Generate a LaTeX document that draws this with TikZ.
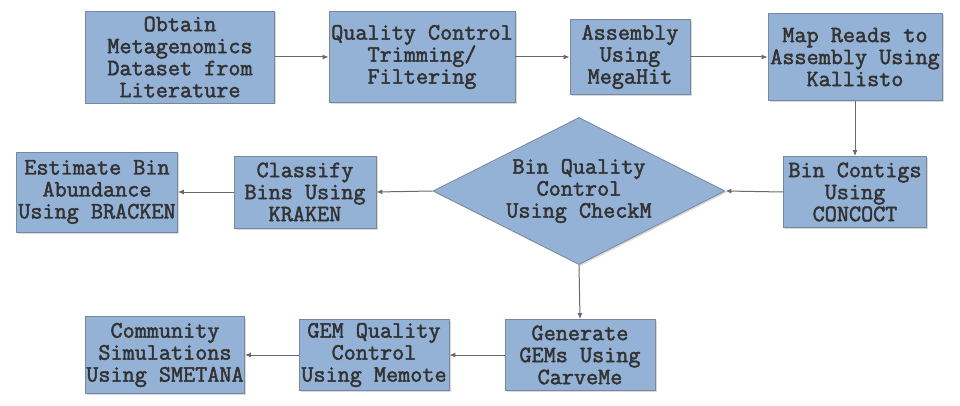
\documentclass[tikz,border=0pt]{standalone}
\usepackage{fontspec}
\setmonofont{Latin Modern Mono}[BoldFont={Latin Modern Mono}, BoldFeatures={FakeBold=2}]
\usetikzlibrary{shapes.geometric,arrows.meta,shadows}

\definecolor{boxblue}{RGB}{148,178,214}
\definecolor{boxline}{RGB}{120,135,155}
\definecolor{txtgray}{RGB}{50,50,50}
\definecolor{arrowgray}{RGB}{105,105,105}

\tikzset{
  stepbox/.style={draw=boxline, fill=boxblue, line width=0.8pt, inner sep=0pt,
    align=center, text=txtgray, font=\ttfamily\bfseries\fontsize{23.5}{22}\selectfont,
    drop shadow={shadow xshift=1.5pt, shadow yshift=-1.5pt, opacity=0.3}},
  flow/.style={draw=arrowgray, line width=1pt, -{Latex[length=6pt,width=5pt]}}
}

\begin{document}
\begin{tikzpicture}[x=1pt,y=1pt]
\useasboundingbox (0,0) rectangle (960,-406);
% top row
\node[stepbox, minimum width=189pt, minimum height=92pt] (obtain) at (180,-57) {Obtain\\Metagenomics\\Dataset from\\Literature};
\node[stepbox, minimum width=186pt, minimum height=91pt] (qc) at (422,-57) {Quality Control\\Trimming/\\Filtering};
\node[stepbox, minimum width=120pt, minimum height=75pt] (assembly) at (630,-57) {Assembly\\Using\\MegaHit};
\node[stepbox, minimum width=174pt, minimum height=87pt] (mapreads) at (855,-57) {Map Reads to\\Assembly Using\\Kallisto};
% middle row
\node[stepbox, minimum width=143pt, minimum height=71pt] (bincontigs) at (855,-192) {Bin Contigs\\Using\\CONCOCT};
\node[stepbox, shape=diamond, aspect=2, minimum width=292pt, minimum height=147pt] (binqc) at (579,-191) {Bin Quality\\Control\\Using CheckM};
\node[stepbox, minimum width=142pt, minimum height=72pt] (classify) at (305,-192) {Classify\\Bins Using\\KRAKEN};
\node[stepbox, minimum width=161pt, minimum height=80pt] (estimate) at (97,-192) {Estimate Bin\\Abundance\\Using BRACKEN};
% bottom row
\node[stepbox, minimum width=150pt, minimum height=71pt] (generate) at (580,-355) {Generate\\GEMs Using\\CarveMe};
\node[stepbox, minimum width=150pt, minimum height=71pt] (gemqc) at (374,-355) {GEM Quality\\Control\\Using Memote};
\node[stepbox, minimum width=159pt, minimum height=77pt] (community) at (165,-355) {Community\\Simulations\\Using SMETANA};

% connectors
\draw[flow] (obtain.east) -- (qc.west);
\draw[flow] (qc.east) -- (assembly.west);
\draw[flow] (assembly.east) -- (mapreads.west);
\draw[flow] (mapreads.south) -- (bincontigs.north);
\draw[flow] (bincontigs.west) -- (binqc.east);
\draw[flow] (binqc.west) -- (classify.east);
\draw[flow] (classify.west) -- (estimate.east);
\draw[flow] (binqc.south) -- (generate.north);
\draw[flow] (generate.west) -- (gemqc.east);
\draw[flow] (gemqc.west) -- (community.east);
\end{tikzpicture}
\end{document}
